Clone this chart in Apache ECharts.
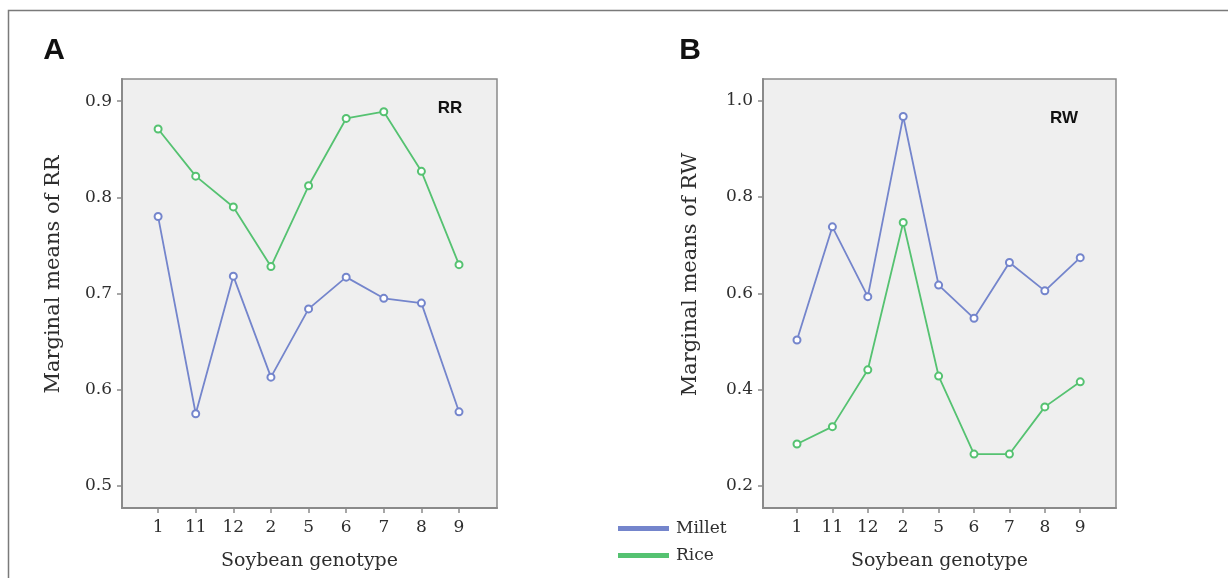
<!DOCTYPE html>
<html><head><meta charset="utf-8">
<script src="https://cdn.jsdelivr.net/npm/echarts@6/dist/echarts.min.js"></script>
<style>html,body{margin:0;padding:0;background:#fff}#c{width:1228px;height:578px}</style>
</head><body><div id="c"></div>
<script>
// ---- data ----
const genotypes = ['1','11','12','2','5','6','7','8','9'];
const rrMillet = [0.780,0.575,0.718,0.613,0.684,0.717,0.695,0.690,0.577];
const rrRice   = [0.871,0.822,0.790,0.728,0.812,0.882,0.889,0.827,0.730];
const rwMillet = [0.503,0.738,0.593,0.967,0.617,0.548,0.664,0.605,0.674];
const rwRice   = [0.287,0.323,0.441,0.747,0.428,0.266,0.266,0.364,0.416];
const rrTicks = [0.5,0.6,0.7,0.8,0.9];
const rwTicks = [0.2,0.4,0.6,0.8,1.0];
const seriesNames = ['Millet','Rice'];

// ---- style ----
const BLUE = '#7485cc', GREEN = '#55c271';
const TXT = '#2e2e2e', AX = '#8a8a8a';
const SERIF = '"DejaVu Serif", serif';
const SANS = '"Liberation Sans", Arial, sans-serif';
const idx = genotypes.map((g,i)=>i);
const pairs = arr => arr.map((v,i)=>[idx[i], v]);

function xAxis(gi){
  return {
    type:'value', gridIndex:gi, min:-0.96, max:9.01,
    splitLine:{show:false},
    axisLine:{show:true, onZero:false, lineStyle:{color:AX, width:2}},
    axisTick:{show:true, customValues:idx, length:5, lineStyle:{color:AX, width:1.5}},
    axisLabel:{customValues:idx, formatter:v=>genotypes[Math.round(v)], color:TXT,
      fontFamily:SERIF, fontSize:17, margin:11},
    name:'Soybean genotype', nameLocation:'middle', nameGap:44,
    nameTextStyle:{color:TXT, fontFamily:SERIF, fontSize:19}
  };
}
function yAxis(gi, min, max, ticks, name, gap){
  return {
    type:'value', gridIndex:gi, min:min, max:max,
    splitLine:{show:false},
    axisLine:{show:true, onZero:false, lineStyle:{color:AX, width:2}},
    axisTick:{show:true, customValues:ticks, length:5, lineStyle:{color:AX, width:1.5}},
    axisLabel:{customValues:ticks, formatter:v=>v.toFixed(1), color:TXT,
      fontFamily:SERIF, fontSize:17, margin:10},
    name:name, nameLocation:'middle', nameGap:gap, nameRotate:90,
    nameTextStyle:{color:TXT, fontFamily:SERIF, fontSize:21, padding:[0,0,0,38]}
  };
}
function line(name, color, gi, data){
  return {
    name:name, type:'line', xAxisIndex:gi, yAxisIndex:gi, data:pairs(data),
    symbol:'emptyCircle', symbolSize:7,
    lineStyle:{color:color, width:1.8},
    itemStyle:{color:color, borderColor:color, borderWidth:1.3},
    animation:false
  };
}

const chart = echarts.init(document.getElementById('c'), null, {renderer:'canvas'});
chart.setOption({
  backgroundColor:'#ffffff',
  animation:false,
  grid:[
    {left:122, top:79, width:375, height:429, show:true, backgroundColor:'#efefef', borderColor:AX, borderWidth:1.5},
    {left:763, top:79, width:353, height:429, show:true, backgroundColor:'#efefef', borderColor:AX, borderWidth:1.5}
  ],
  xAxis:[xAxis(0), xAxis(1)],
  yAxis:[
    yAxis(0, 0.477, 0.923, rrTicks, 'Marginal means of RR', 58),
    yAxis(1, 0.154, 1.045, rwTicks, 'Marginal means of RW', 62)
  ],
  legend:{
    orient:'vertical', left:613, top:515, itemWidth:49, itemHeight:3, itemGap:10,
    icon:'rect', data:seriesNames,
    textStyle:{color:TXT, fontFamily:SERIF, fontSize:17, padding:[0,0,0,3]}
  },
  series:[
    line(seriesNames[0], BLUE, 0, rrMillet),
    line(seriesNames[1], GREEN, 0, rrRice),
    line(seriesNames[0], BLUE, 1, rwMillet),
    line(seriesNames[1], GREEN, 1, rwRice)
  ],
  graphic:[
    {type:'rect', shape:{x:8.5, y:10.5, width:1400, height:800}, style:{fill:'none', stroke:'#7a7a7a', lineWidth:1.5}, silent:true},
    {type:'text', x:54, y:51, style:{text:'A', font:'bold 30px '+SANS, fill:'#111', align:'center', verticalAlign:'middle'}},
    {type:'text', x:690, y:51, style:{text:'B', font:'bold 30px '+SANS, fill:'#111', align:'center', verticalAlign:'middle'}},
    {type:'text', x:450, y:108, style:{text:'RR', font:'bold 17px '+SANS, fill:'#111', align:'center', verticalAlign:'middle'}},
    {type:'text', x:1064, y:118, style:{text:'RW', font:'bold 17px '+SANS, fill:'#111', align:'center', verticalAlign:'middle'}}
  ]
});
</script>
</body></html>
